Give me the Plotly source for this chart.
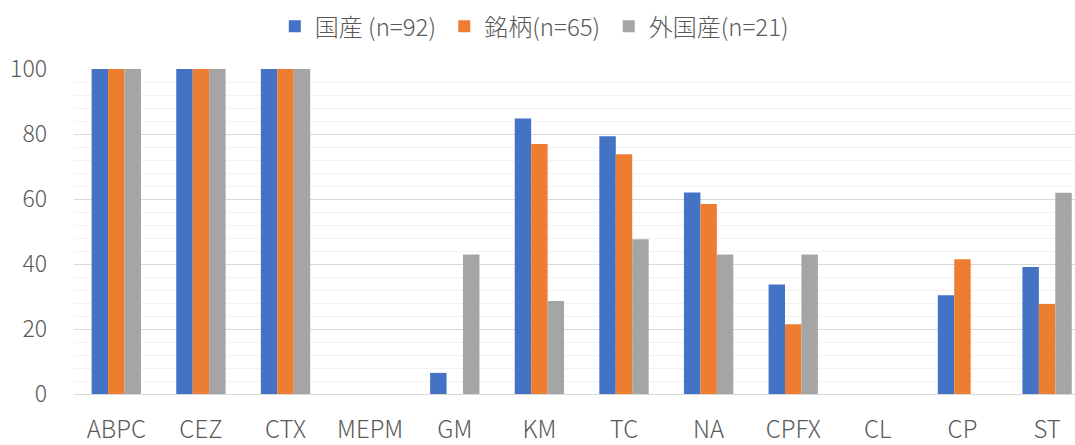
import plotly.graph_objects as go

# Drug categories on the x axis
categories = ["ABPC", "CEZ", "CTX", "MEPM", "GM", "KM", "TC", "NA", "CPFX", "CL", "CP", "ST"]

# Percentages per group
domestic = [100, 100, 100, 0, 6.5, 84.8, 79.3, 62.0, 33.7, 0, 30.4, 39.1]
brand = [100, 100, 100, 0, 0, 76.9, 73.8, 58.5, 21.5, 0, 41.5, 27.7]
imported = [100, 100, 100, 0, 42.9, 28.6, 47.6, 42.9, 42.9, 0, 0, 61.9]

series_names = ["国産 (n=92)", "銘柄(n=65)", "外国産(n=21)"]
series_values = [domestic, brand, imported]
series_colors = ["#4472C4", "#ED7D31", "#A5A5A5"]

FONT = "Noto Sans CJK JP, Noto Sans, sans-serif"
TEXT_COLOR = "#595959"

# One legend box per series so each entry can be placed on its own
legend_ids = ["legend", "legend2", "legend3"]
legend_x = [0.2006, 0.3699, 0.5342]

fig = go.Figure()
for name, vals, color, lid in zip(series_names, series_values, series_colors, legend_ids):
    fig.add_trace(go.Bar(
        x=categories, y=vals, name=name, legend=lid, showlegend=True,
        marker=dict(color=color, line=dict(width=0)),
    ))

legend_style = dict(
    orientation="h", xanchor="left", y=1.13, yanchor="middle",
    font=dict(size=24, color=TEXT_COLOR, weight=300),
    bgcolor="rgba(0,0,0,0)",
)

fig.update_layout(
    width=1075, height=445,
    margin=dict(l=74, r=0, t=69, b=44),
    paper_bgcolor="white", plot_bgcolor="white",
    showlegend=True,
    barmode="group", bargap=0.417, bargroupgap=0,
    font=dict(family=FONT, color=TEXT_COLOR, size=23, weight=300),
    legend=dict(x=legend_x[0], **legend_style),
    legend2=dict(x=legend_x[1], **legend_style),
    legend3=dict(x=legend_x[2], **legend_style),
)

fig.update_xaxes(
    type="category", range=[-0.5, 11.33],
    showgrid=False, showline=True, linecolor="#D9D9D9", linewidth=1,
    ticks="", ticklabelstandoff=14,
    tickfont=dict(size=24, color=TEXT_COLOR, weight=300),
)

fig.update_yaxes(
    range=[0, 100], dtick=20, tick0=0,
    showgrid=True, gridcolor="#D9D9D9", gridwidth=1,
    zeroline=True, zerolinecolor="#D9D9D9", zerolinewidth=1,
    minor=dict(dtick=4, showgrid=True, gridcolor="#F2F2F2", gridwidth=1),
    showline=False, ticks="", ticklabelstandoff=26,
    tickfont=dict(size=23, color=TEXT_COLOR, weight=300),
)

fig.write_html("out.html")
